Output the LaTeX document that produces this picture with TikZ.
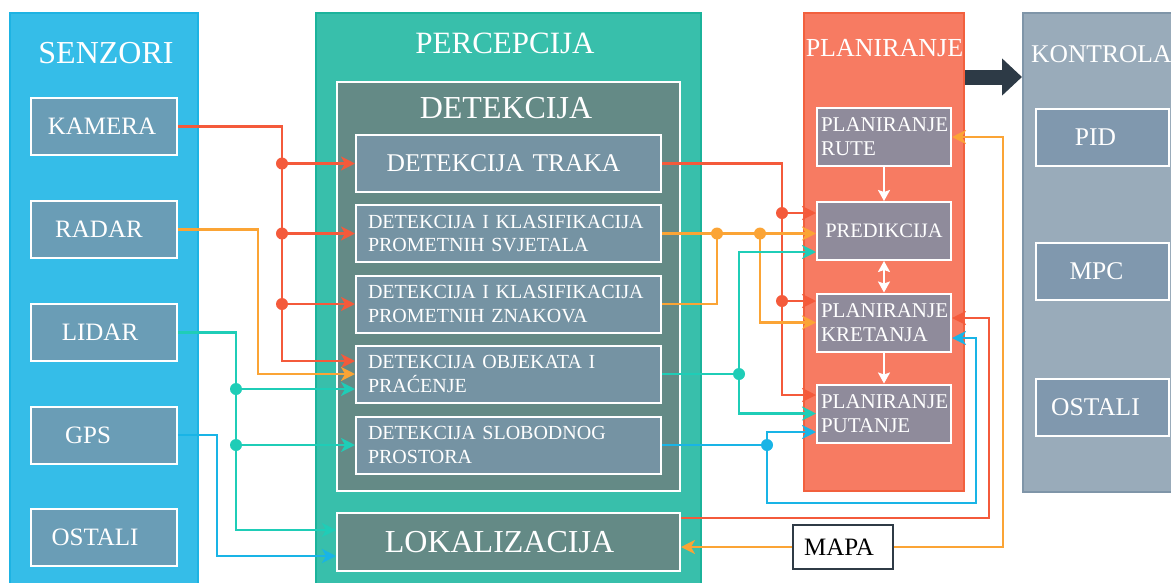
\documentclass[tikz,border=0pt]{standalone}
\usepackage{fontspec}
\setmainfont{Liberation Serif}
\usetikzlibrary{arrows.meta}
\definecolor{senzfill}{HTML}{35BDE8}
\definecolor{senzdraw}{HTML}{1DB3E3}
\definecolor{sensbox}{HTML}{6A9DB6}
\definecolor{percfill}{HTML}{38BFAB}
\definecolor{percdraw}{HTML}{1BB39B}
\definecolor{detfill}{HTML}{648A86}
\definecolor{detbox}{HTML}{7593A3}
\definecolor{planfill}{HTML}{F77B62}
\definecolor{plandraw}{HTML}{F2603E}
\definecolor{planbox}{HTML}{8F8B9B}
\definecolor{konfill}{HTML}{99ABBA}
\definecolor{kondraw}{HTML}{7F95A8}
\definecolor{konbox}{HTML}{8098AE}
\definecolor{cred}{HTML}{F45A3B}
\definecolor{corange}{HTML}{FBA435}
\definecolor{cteal}{HTML}{1FCDB7}
\definecolor{cblue}{HTML}{19B4E6}
\definecolor{darkarr}{HTML}{2D3A46}
\definecolor{mapadraw}{HTML}{2F3B46}
\begin{document}
\begin{tikzpicture}[x=1pt,y=-1pt,
  ctip/.tip={Stealth[length=14pt,width=14pt,inset=4pt]},
  wtip/.tip={Stealth[length=11pt,width=12pt,inset=2pt]},
  panel/.style={line width=2pt, inner sep=0pt},
  ttl/.style={text=white, anchor=base, inner sep=0pt},
  sbox/.style={fill=sensbox, draw=white, line width=2pt, text=white, minimum width=146pt, minimum height=57pt, inner sep=0pt, font=\fontsize{25}{30}\selectfont},
  dbox/.style={fill=detbox, draw=white, line width=2pt, text=white, text width=281pt, inner xsep=12pt, inner ysep=0pt, minimum height=57pt, align=left, font=\fontsize{20}{23.5}\selectfont},
  pbox/.style={fill=planbox, draw=white, line width=2pt, text=white, text width=126pt, inner xsep=4pt, inner ysep=0pt, minimum height=58pt, align=left, font=\fontsize{21}{24}\selectfont},
  kbox/.style={fill=konbox, draw=white, line width=2pt, text=white, minimum width=133pt, minimum height=57pt, inner sep=0pt, font=\fontsize{25.5}{30}\selectfont},
  line/.style={line width=2.2pt},
  con/.style={line width=2.2pt, -ctip},
  wcon/.style={line width=2pt, draw=white}
]
\useasboundingbox (0,0) rectangle (1171,582);

% SENZORI
\node[panel, fill=senzfill, draw=senzdraw, minimum width=188pt, minimum height=577pt] (sen) at (104,301.5) {};
\node[ttl, font=\fontsize{32}{36}\selectfont] (sent) at (106,63) {SENZORI};
\node[sbox] (kam) at (104,126.5) {KAMERA\hspace*{4pt}};
\node[sbox] (rad) at (104,229.5) {RADAR\hspace*{10pt}};
\node[sbox] (lid) at (104,332.5) {LIDAR\hspace*{8pt}};
\node[sbox] (gps) at (104,435) {GPS\hspace*{32pt}};
\node[sbox] (ost) at (104,537.5) {OSTALI\hspace*{18pt}};

% PERCEPCIJA
\node[panel, fill=percfill, draw=percdraw, minimum width=385pt, minimum height=577pt] (per) at (508.5,301.5) {};
\node[ttl, font=\fontsize{31}{36}\selectfont] (pert) at (505,53) {PERCEPCIJA};
\node[panel, fill=detfill, draw=white, minimum width=343pt, minimum height=409pt] (det) at (508.5,286.5) {};
\node[ttl, font=\fontsize{32}{36}\selectfont] (dett) at (506,118) {DETEKCIJA};
\node[dbox, align=center, font=\fontsize{25.5}{30}\selectfont] (d1) at (508.5,163.5) {DETEKCIJA TRAKA\hspace*{10pt}};
\node[dbox] (d2) at (508.5,233.5) {DETEKCIJA I KLASIFIKACIJA\\PROMETNIH SVJETALA};
\node[dbox] (d3) at (508.5,304) {DETEKCIJA I KLASIFIKACIJA\\PROMETNIH ZNAKOVA};
\node[dbox] (d4) at (508.5,374) {DETEKCIJA OBJEKATA I\\PRAĆENJE};
\node[dbox] (d5) at (508.5,445) {DETEKCIJA SLOBODNOG\\PROSTORA};
\node[panel, fill=detfill, draw=white, minimum width=343pt, minimum height=58pt, text=white, font=\fontsize{32}{36}\selectfont] (lok) at (508.5,542) {LOKALIZACIJA\hspace*{18pt}};

% PLANIRANJE
\node[panel, fill=planfill, draw=plandraw, minimum width=160pt, minimum height=478pt] (pla) at (884,252) {};
\node[ttl, font=\fontsize{26}{30}\selectfont] (plat) at (884.5,56) {PLANIRANJE};
\node[pbox] (pr) at (884,137) {PLANIRANJE\\RUTE};
\node[pbox, align=center, font=\fontsize{20.5}{24}\selectfont] (pd) at (884,231) {PREDIKCIJA};
\node[pbox] (pk) at (884,322.5) {PLANIRANJE\\KRETANJA};
\node[pbox] (pp) at (884,413.5) {PLANIRANJE\\PUTANJE};

% KONTROLA
\node[panel, fill=konfill, draw=kondraw, minimum width=160pt, minimum height=479pt] (kon) at (1103,252.5) {};
\node[ttl, anchor=base west, font=\fontsize{25.5}{30}\selectfont] (kont) at (1031,62) {KONTROLA};
\node[kbox] (pid) at (1102.5,137) {PID\hspace*{14pt}};
\node[kbox] (mpc) at (1102.5,271.5) {MPC\hspace*{12pt}};
\node[kbox] (ost2) at (1102.5,407) {OSTALI\hspace*{14pt}};

% MAPA
\node[draw=mapadraw, fill=white, line width=2.5pt, minimum width=100pt, minimum height=44pt, inner sep=0pt, font=\fontsize{25}{28}\selectfont] (mapa) at (843,547) {MAPA\hspace*{8pt}};

% thick arrow PLANIRANJE -> KONTROLA
\coordinate (ka) at (964,77);
\draw[line width=15pt, draw=darkarr, -{Triangle[length=20pt,width=36pt]}] (pla.east |- ka) -- (kon.west |- ka);

% white arrows in planning
\draw[wcon, -wtip] (pr.south) -- (pd.north);
\draw[wcon, wtip-wtip] (pd.south) -- (pk.north);
\draw[wcon, -wtip] (pk.south) -- (pp.north);

% junction coordinates
\path (d1.west) ++(-73,0) coordinate (jr1);
\path (d2.west) ++(-73,0) coordinate (jr2);
\path (d3.west) ++(-73,0) coordinate (jr3);
\path (d4.west) ++(-73,-13) coordinate (jr4);
\coordinate (jr5) at (782,213);
\coordinate (jr6) at (782,301);
\coordinate (jr7) at (782,395);
\path (d2.east) ++(55,0) coordinate (jo1);
\path (d2.east) ++(98,0) coordinate (jo2);
\path (d4.west) ++(-119,15) coordinate (jt1);
\path (d5.west) ++(-119,0) coordinate (jt2);
\path (lok.west) ++(-100,-12) coordinate (jt3);
\path (d4.east) ++(77,0) coordinate (jt4);
\path (lok.west) ++(-119,14) coordinate (jb1);
\path (d5.east) ++(105,0) coordinate (jb2);

% RED
\draw[con, cred] (kam.east) -| (jr4) -- (d4.west |- jr4);
\draw[con, cred] (jr1) -- (d1.west);
\draw[con, cred] (jr2) -- (d2.west);
\draw[con, cred] (jr3) -- (d3.west);
\draw[con, cred] (d1.east) -| (jr7) -- (pp.west |- jr7);
\draw[con, cred] (jr5) -- (pd.west |- jr5);
\draw[con, cred] (jr6) -- (pk.west |- jr6);
\draw[con, cred] ([yshift=24pt]lok.east) -| ([xshift=37pt,yshift=4.5pt]pk.east) -- ([yshift=4.5pt]pk.east);

% ORANGE
\draw[con, corange] (rad.east) -| ([xshift=-97pt]d4.west) -- (d4.west);
\draw[con, corange] (d2.east) -- (pd.west |- d2.east);
\draw[line, corange] (d3.east) -| (jo1);
\draw[con, corange] (jo2) |- (pk.west);
\draw[con, corange] (mapa.east) -| ([xshift=51pt]pr.east) -- (pr.east);
\draw[con, corange] (mapa.west) -- (lok.east |- mapa.west);

% TEAL
\draw[con, cteal] (lid.east) -| (jt3) -- (lok.west |- jt3);
\draw[con, cteal] (jt1) -- (d4.west |- jt1);
\draw[con, cteal] (jt2) -- (d5.west);
\draw[line, cteal] (d4.east) -- (jt4);
\draw[con, cteal] (jt4) |- ([yshift=-21pt]pd.west);
\draw[con, cteal] (jt4) |- (pp.west);

% BLUE
\draw[con, cblue] (gps.east) -| (jb1) -- (lok.west |- jb1);
\draw[line, cblue] (d5.east) -- (jb2);
\draw[con, cblue] (jb2) |- ([yshift=-18.5pt]pp.west);
\draw[con, cblue] (jb2) -- ++(0,58) -| ([xshift=24pt,yshift=-15.5pt]pk.east) -- ([yshift=-15.5pt]pk.east);

% dots
\foreach \p in {jr1,jr2,jr3,jr5,jr6} \fill[cred] (\p) circle[radius=6pt];
\foreach \p in {jo1,jo2} \fill[corange] (\p) circle[radius=6pt];
\foreach \p in {jt1,jt2,jt4} \fill[cteal] (\p) circle[radius=6pt];
\fill[cblue] (jb2) circle[radius=6pt];
\end{tikzpicture}
\end{document}
